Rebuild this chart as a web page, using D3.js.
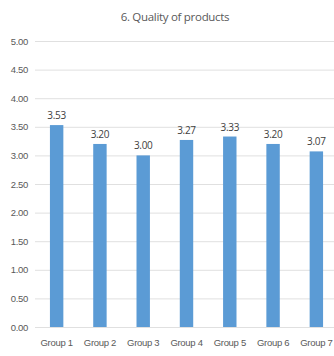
<!DOCTYPE html>
<html>
<head>
<meta charset="utf-8">
<script src="https://cdn.jsdelivr.net/npm/d3@7"></script>
<style>
  html, body { margin: 0; padding: 0; background: #fff; }
  svg { display: block; font-family: "Liberation Sans Narrow", "Open Sans", sans-serif; }
</style>
</head>
<body>
<svg id="chart" width="334" height="356"></svg>
<script>
const categories = ["Group 1", "Group 2", "Group 3", "Group 4", "Group 5", "Group 6", "Group 7"];
const values = [3.53, 3.20, 3.00, 3.27, 3.33, 3.20, 3.07];
const yTicks = [0, 0.5, 1, 1.5, 2, 2.5, 3, 3.5, 4, 4.5, 5];
const title = "6. Quality of products";

(function draw() {
  const svg = d3.select("#chart");
  const plotLeft = 35, plotRight = 338, plotTop = 41, plotBottom = 327;

  const x = d3.scaleBand().domain(categories).range([plotLeft, plotRight]).paddingInner(0.69).paddingOuter(0.345);
  const y = d3.scaleLinear().domain([0, 5]).range([plotBottom, plotTop]);

  svg.append("text")
    .attr("x", 175).attr("y", 21)
    .attr("text-anchor", "middle")
    .attr("font-size", 11.5)
    .attr("letter-spacing", -0.3)
    .attr("fill", "#595959")
    .text(title);

  // horizontal gridlines and value axis labels
  const yAxis = d3.axisLeft(y).tickValues(yTicks).tickSize(-(plotRight - plotLeft)).tickPadding(7)
    .tickFormat(d3.format(".2f"));
  const gy = svg.append("g").attr("transform", `translate(${plotLeft},0)`).call(yAxis);
  gy.select(".domain").remove();
  gy.selectAll(".tick line").attr("stroke", "#e0e0e0").attr("stroke-width", 1);
  gy.selectAll(".tick text").attr("fill", "#595959").attr("font-size", 9.5).attr("letter-spacing", -0.3);

  // bars
  svg.append("g").selectAll("rect").data(values).join("rect")
    .attr("x", (d, i) => x(categories[i]))
    .attr("width", x.bandwidth())
    .attr("y", d => y(d))
    .attr("height", d => y(0) - y(d))
    .attr("fill", "#5b9bd5");

  // data labels
  svg.append("g").selectAll("text").data(values).join("text")
    .attr("x", (d, i) => x(categories[i]) + x.bandwidth() / 2)
    .attr("y", d => y(d) - 6)
    .attr("text-anchor", "middle")
    .attr("font-size", 10)
    .attr("letter-spacing", -0.3)
    .attr("fill", "#404040")
    .text(d => d.toFixed(2));

  // category axis
  const xAxis = d3.axisBottom(x).tickSize(0).tickPadding(12);
  const gx = svg.append("g").attr("transform", `translate(0,${plotBottom})`).call(xAxis);
  gx.select(".domain").attr("stroke", "#e0e0e0");
  gx.selectAll(".tick text").attr("fill", "#595959").attr("font-size", 9.5).attr("letter-spacing", -0.3);
})();
</script>
</body>
</html>
